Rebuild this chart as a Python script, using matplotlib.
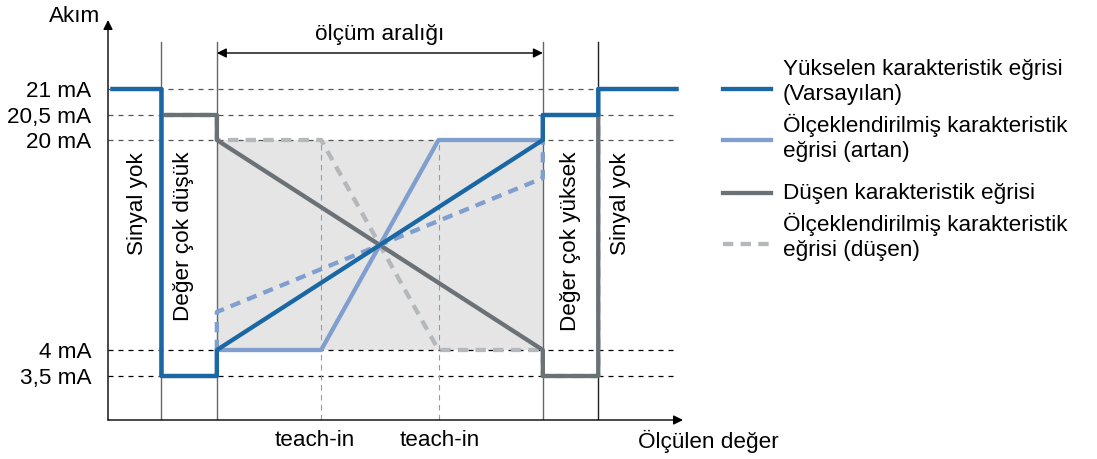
import numpy as np
import matplotlib.pyplot as plt
from matplotlib.lines import Line2D

plt.rcParams['font.family'] = ['Liberation Sans', 'DejaVu Sans']
plt.rcParams['font.size'] = 16.2

# current levels (mA) and their labels
levels = [21, 20.5, 20, 4, 3.5]
level_labels = ['21 mA', '20,5 mA', '20 mA', '4 mA', '3,5 mA']

# measured value: measuring range 0..100, limits outside
x_low_lim = -17
x_start, x_end = 0, 100
x_high_lim = 117
teach_in = [32, 68]

# curves (x, mA)
rising_x = [-32, -17, -17, 0, 0, 100, 100, 117, 117, 141]
rising_y = [21, 21, 3.5, 3.5, 4, 20, 20.5, 20.5, 21, 21]

scaled_rising_x = [-32, -17, -17, 0, 0, 32, 68, 100, 100, 117, 117, 141]
scaled_rising_y = [21, 21, 3.5, 3.5, 4, 4, 20, 20, 20.5, 20.5, 21, 21]

scaled_rising_dash_x = [0, 0, 100, 100]
scaled_rising_dash_y = [4, 6.9, 17.1, 20]

falling_x = [-16, 0, 0, 100, 100, 117, 117]
falling_y = [20.5, 20.5, 20, 4, 3.5, 3.5, 20.5]

scaled_falling_x = [-16, 0, 0, 32, 68, 100, 100, 117, 117]
scaled_falling_y = [20.5, 20.5, 20, 20, 4, 4, 3.5, 3.5, 20.5]

legend_labels = ['Yükselen karakteristik eğrisi\n(Varsayılan)',
                 'Ölçeklendirilmiş karakteristik\neğrisi (artan)',
                 'Düşen karakteristik eğrisi',
                 'Ölçeklendirilmiş karakteristik\neğrisi (düşen)']

c_blue = '#1a67a4'
c_lblue = '#809fce'
c_gray = '#6b7276'
c_lgray = '#b4b8ba'

# schematic (non linear) current axis
knots_ma = [0, 3.5, 4, 20, 20.5, 21, 22.38]
knots_h = [0, 44, 70, 280, 305, 331, 400]


def fwd(v):
    return np.interp(v, knots_ma, knots_h)


def inv(h):
    return np.interp(h, knots_h, knots_ma)


fig = plt.figure(figsize=(10.97, 4.59), dpi=100)
ax = fig.add_axes([108 / 1097, 39 / 459, 575 / 1097, 400 / 459])
ax.set_yscale('function', functions=(fwd, inv))
ax.set_ylim(0, 22.38)
ax.set_xlim(-33.4, 143)
for s in ax.spines.values():
    s.set_visible(False)

ax.fill_between([x_start, x_end], 4, 20, color='#e5e5e5', lw=0, zorder=0)

for lv in levels:
    col = '#000000' if lv < 10 else '#555555'
    ax.plot([-33.4, 140], [lv, lv], color=col, lw=0.9, dashes=(4, 4), zorder=1)

top = 378 / 400
for xv, col in zip([x_low_lim, x_start, x_end, x_high_lim], ['#666666', '#666666', '#666666', '#222222']):
    ax.axvline(xv, 0, top, color=col, lw=1, zorder=1)
for xv in teach_in:
    ax.vlines(xv, 0, 20, color=c_lblue, lw=0.8, linestyles=(0, (5, 4)), zorder=1)

lw = 3.1
dash = (2.4, 1.7)
ax.plot(scaled_falling_x, scaled_falling_y, color=c_lgray, lw=lw, dashes=dash, zorder=2)
ax.plot(falling_x, falling_y, color=c_gray, lw=lw, zorder=3)
ax.plot(scaled_rising_dash_x, scaled_rising_dash_y, color=c_lblue, lw=lw, dashes=dash, zorder=4)
ax.plot(scaled_rising_x, scaled_rising_y, color=c_lblue, lw=lw, zorder=5)
ax.plot(rising_x, rising_y, color=c_blue, lw=lw, zorder=6)

ax.set_yticks(levels)
ax.set_yticklabels(level_labels)
ax.set_xticks([])
ax.tick_params(axis='y', length=0, pad=12)
ax.yaxis.set_minor_locator(plt.NullLocator())

# axes with arrows
ax.annotate('', xy=(1, 0), xytext=(0, 0), xycoords='axes fraction',
            arrowprops=dict(arrowstyle='-|>', color='black', lw=1, mutation_scale=14, shrinkA=0, shrinkB=0))
ax.annotate('', xy=(0, 1), xytext=(0, 0), xycoords='axes fraction',
            arrowprops=dict(arrowstyle='-|>', color='black', lw=1, mutation_scale=14, shrinkA=0, shrinkB=0))

# measuring range arrow
tr = ax.get_xaxis_transform()
ax.annotate('', xy=(x_end, 0.9175), xytext=(x_start, 0.9175), xycoords=tr,
            arrowprops=dict(arrowstyle='<|-|>', color='black', lw=1, mutation_scale=14, shrinkA=0, shrinkB=0))
ax.text(50, 0.9625, 'ölçüm aralığı', transform=tr, ha='center', va='center')

# region labels
ax.text(-24.5, 0.67, 'Sinyal yok', transform=tr, rotation=90, ha='center', va='top')
ax.text(-10.3, 0.67, 'Değer çok düşük', transform=tr, rotation=90, ha='center', va='top')
ax.text(108.6, 0.67, 'Değer çok yüksek', transform=tr, rotation=90, ha='center', va='top')
ax.text(123.9, 0.67, 'Sinyal yok', transform=tr, rotation=90, ha='center', va='top')

# axis titles
fig.text(75 / 1097, 1 - 16 / 459, 'Akım', ha='center', va='center')
fig.text(315 / 1097, 1 - 441 / 459, 'teach-in', ha='center', va='center')
fig.text(440 / 1097, 1 - 441 / 459, 'teach-in', ha='center', va='center')
fig.text(708 / 1097, 1 - 441 / 459, 'Ölçülen değer', ha='center', va='center')

# legend drawn by hand
leg_styles = [dict(color=c_blue), dict(color=c_lblue), dict(color=c_gray),
              dict(color=c_lgray, dashes=dash)]
sample_y = [89, 140, 193, 244]
text_y = [82, 138, 193, 237]
for lab, st, sy, ty in zip(legend_labels, leg_styles, sample_y, text_y):
    yy = 1 - sy / 459
    fig.add_artist(Line2D([723 / 1097, 771 / 1097], [yy, yy], lw=lw, **st))
    fig.text(783 / 1097, 1 - ty / 459, lab, ha='left', va='center', linespacing=1.25)

fig.savefig('out.png', dpi=100)
